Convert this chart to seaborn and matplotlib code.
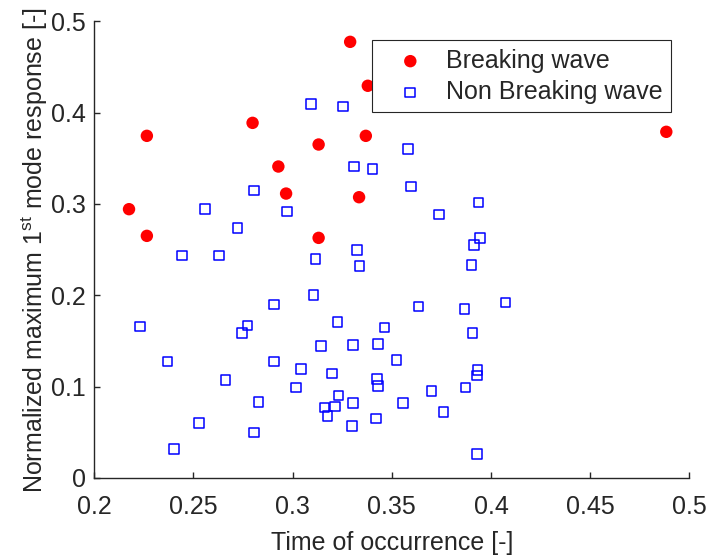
import numpy as np
import pandas as pd
import matplotlib
matplotlib.use("Agg")
import matplotlib.pyplot as plt
import seaborn as sns

# Breaking wave points
break_x = [0.3290, 0.3379, 0.2798, 0.2265, 0.3131, 0.3369, 0.2928, 0.2967,
           0.3335, 0.2175, 0.2265, 0.3131, 0.4884]
break_y = [0.4775, 0.4294, 0.3888, 0.3746, 0.3651, 0.3746, 0.3410, 0.3114,
           0.3074, 0.2943, 0.2651, 0.2629, 0.3790]

# Non breaking wave points
nonbreak_x = [0.3093, 0.3254, 0.3308, 0.3403, 0.2805, 0.2558, 0.2972, 0.2722,
              0.3581, 0.3596, 0.3938, 0.3739, 0.3945, 0.3913,
              0.3325, 0.2441, 0.2630, 0.3115, 0.3337, 0.3105, 0.2906, 0.2231,
              0.2773, 0.2744, 0.3226, 0.3463, 0.3143, 0.3303, 0.3431, 0.2369,
              0.2906, 0.3524, 0.3042, 0.3199, 0.2662, 0.3426, 0.3431, 0.3017,
              0.3231, 0.2828, 0.3305, 0.3160, 0.3214, 0.3175, 0.3419, 0.2529,
              0.3298, 0.2805, 0.2403,
              0.3901, 0.3635, 0.3867, 0.4073, 0.3906, 0.3933, 0.3928, 0.3872,
              0.3701, 0.3556, 0.3761, 0.3928]
nonbreak_y = [0.4093, 0.4067, 0.3410, 0.3384, 0.3147, 0.2943, 0.2917, 0.2738,
              0.3600, 0.3190, 0.3015, 0.2884, 0.2629, 0.2552,
              0.2497, 0.2435, 0.2435, 0.2399, 0.2319, 0.2004, 0.1898, 0.1657,
              0.1668, 0.1588, 0.1709, 0.1646, 0.1442, 0.1457, 0.1468, 0.1274,
              0.1274, 0.1289, 0.1190, 0.1143, 0.1070, 0.1084, 0.1008, 0.0989,
              0.0902, 0.0832, 0.0821, 0.0770, 0.0781, 0.0679, 0.0650, 0.0602,
              0.0570, 0.0496, 0.0318,
              0.2330, 0.1877, 0.1851, 0.1920, 0.1588, 0.1180, 0.1121, 0.0989,
              0.0953, 0.0821, 0.0723, 0.0266]

labels = ["Breaking wave", "Non Breaking wave"]
x_ticks = [0.2, 0.25, 0.3, 0.35, 0.4, 0.45, 0.5]
x_ticklabels = ["0.2", "0.25", "0.3", "0.35", "0.4", "0.45", "0.5"]
y_ticks = [0, 0.1, 0.2, 0.3, 0.4, 0.5]
y_ticklabels = ["0", "0.1", "0.2", "0.3", "0.4", "0.5"]

sns.set_style("white")
plt.rcParams["font.family"] = ["Liberation Sans", "DejaVu Sans"]
plt.rcParams["mathtext.fontset"] = "custom"
plt.rcParams["mathtext.rm"] = "Liberation Sans"
plt.rcParams["mathtext.it"] = "Liberation Sans"
plt.rcParams["mathtext.default"] = "regular"

df_b = pd.DataFrame({"x": break_x, "y": break_y})
df_n = pd.DataFrame({"x": nonbreak_x, "y": nonbreak_y})

fig = plt.figure(figsize=(7.08, 5.56), dpi=100)
ax = fig.add_axes([0.1332, 0.1403, 0.9736 - 0.1332, 0.9617 - 0.1403])

axcol = "#262626"
fs = 18
sns.scatterplot(data=df_b, x="x", y="y", ax=ax, marker="o", s=80,
                color="#FF0000", edgecolor="none", linewidth=0,
                label=labels[0], zorder=3)
sns.scatterplot(data=df_n, x="x", y="y", ax=ax, marker="s", s=48,
                facecolor="none", edgecolor="#0000FF", linewidth=1.1,
                label=labels[1], zorder=3)

ax.set_xlim(0.2, 0.5)
ax.set_ylim(0, 0.5)
ax.set_xticks(x_ticks)
ax.set_xticklabels(x_ticklabels)
ax.set_yticks(y_ticks)
ax.set_yticklabels(y_ticklabels)
ax.tick_params(bottom=True, left=True, top=False, right=False,
               direction="in", length=4.5, width=1, colors=axcol,
               labelsize=fs, labelcolor=axcol)
ax.tick_params(axis="x", pad=12)
ax.tick_params(axis="y", pad=6)
for side in ["top", "right"]:
    ax.spines[side].set_visible(False)
for side in ["left", "bottom"]:
    ax.spines[side].set_color(axcol)
    ax.spines[side].set_linewidth(1)

ax.set_xlabel("Time of occurrence [-]", fontsize=fs, color=axcol, labelpad=9)
ax.set_ylabel("Normalized maximum 1$^{st}$ mode response [-]", fontsize=fs,
              color=axcol, labelpad=1)

leg = ax.legend(loc="upper right", bbox_to_anchor=(0.9687, 0.958),
                frameon=True, fancybox=False, framealpha=1,
                edgecolor="#262626", fontsize=fs, borderpad=0.33,
                handlelength=2.4, handletextpad=0.22, labelspacing=0.3,
                borderaxespad=0)
leg.get_frame().set_linewidth(0.8)

fig.savefig("out.png", dpi=100)
